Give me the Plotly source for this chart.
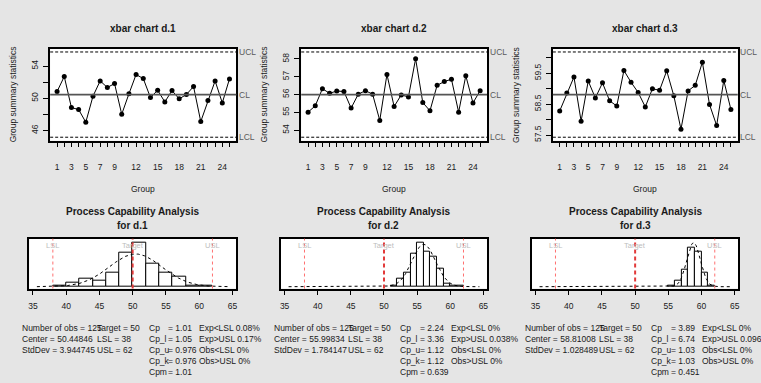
import numpy as np
import plotly.graph_objects as go

# ---------------- data ----------------
names = ["d.1", "d.2", "d.3"]
groups = list(range(1, 26))
xbar_d1 = [50.83, 52.69, 48.84, 48.59, 47.02, 50.25, 52.15, 51.33, 51.82, 48.01,
           50.54, 52.94, 52.44, 50.08, 50.99, 49.54, 50.95, 49.92, 50.46, 51.45,
           47.10, 49.71, 52.15, 49.42, 52.40]
xbar_d2 = [55.01, 55.37, 56.33, 56.07, 56.20, 56.17, 55.24, 56.02, 56.22, 56.02,
           54.55, 57.13, 55.33, 55.98, 55.87, 58.01, 55.55, 55.09, 56.52, 56.73,
           56.86, 55.01, 57.06, 55.53, 56.22]
xbar_d3 = [58.28, 58.86, 59.38, 57.95, 59.25, 58.70, 59.19, 58.61, 58.44, 59.59,
           59.21, 58.88, 58.41, 59.00, 58.95, 59.58, 58.77, 57.69, 58.93, 59.11,
           59.86, 58.49, 57.81, 59.27, 58.33]
xbars = [xbar_d1, xbar_d2, xbar_d3]

centers = [50.44846, 55.99834, 58.81008]
stddevs = [3.944745, 1.784147, 1.028489]
group_size = 5
n_obs = 125
target = 50
lsl = 38
usl = 62

xtick_vals = list(range(1, 26))
xtick_text = ["1", "", "3", "", "5", "", "7", "", "9", "", "", "12", "", "", "15",
              "", "", "18", "", "", "21", "", "", "24", ""]
ytick_vals = [[46, 48, 50, 52, 54], [54, 55, 56, 57, 58], [57.5, 58, 58.5, 59, 59.5, 60]]
ytick_text = [["46", "", "50", "", "54"], ["54", "55", "56", "57", "58"],
              ["57.5", "", "58.5", "", "59.5", ""]]

hist_breaks_d1 = [38, 40, 42, 44, 46, 48, 50, 52, 54, 56, 58, 60, 62]
hist_counts_d1 = [1, 3, 6, 5, 11, 26, 34, 18, 11, 8, 1, 1]
hist_breaks_d2 = [51, 52, 53, 54, 55, 56, 57, 58, 59, 60, 61, 62]
hist_counts_d2 = [1, 5, 9, 22, 29, 23, 20, 12, 2, 1, 1]
hist_breaks_d3 = [55, 56, 57, 58, 59, 60, 61, 62]
hist_counts_d3 = [1, 7, 19, 43, 39, 15, 1]
hist_breaks = [hist_breaks_d1, hist_breaks_d2, hist_breaks_d3]
hist_counts = [hist_counts_d1, hist_counts_d2, hist_counts_d3]
hist_ticks = [35, 40, 45, 50, 55, 60, 65]

cp_names = ["Cp", "Cp_l", "Cp_u", "Cp_k", "Cpm"]
cp_vals = [["1.01", "1.05", "0.976", "0.976", "1.01"],
           ["2.24", "3.36", "1.12", "1.12", "0.639"],
           ["3.89", "6.74", "1.03", "1.03", "0.451"]]
eo_names = ["Exp<LSL", "Exp>USL", "Obs<LSL", "Obs>USL"]
eo_vals = [["0.08%", "0.17%", "0%", "0%"],
           ["0%", "0.038%", "0%", "0%"],
           ["0%", "0.096%", "0%", "0%"]]
center_txt = ["50.44846", "55.99834", "58.81008"]
sd_txt = ["3.944745", "1.784147", "1.028489"]

# ---------------- layout helpers ----------------
W, H = 761, 383
FONT = "Liberation Sans, Arial, Helvetica, sans-serif"
BG = "#E5E5E5"
TXT = "#1a1a1a"


def px(x):
    return x / W


def py(y):
    return 1 - y / H


top_box_x = [(49.3, 236.0), (301.0, 487.3), (553.3, 738.7)]
top_box_y = (48.7, 141.0)
bot_box_x = [(28.3, 235.7), (280.7, 487.3), (532.3, 739.3)]
bot_box_y = (239.3, 289.3)

fig = go.Figure()
annotations = []
shapes = []
layout = dict(width=W, height=H, autosize=False, margin=dict(l=0, r=0, t=0, b=0),
              paper_bgcolor=BG, plot_bgcolor="white", showlegend=False,
              font=dict(family=FONT, size=8.5, color=TXT), bargap=0)

xr_top = [1 - 0.04 * 24, 25 + 0.04 * 24]

for i in range(3):
    k = i + 1
    xa = "x" if k == 1 else f"x{k}"
    ya = "y" if k == 1 else f"y{k}"
    c, s = centers[i], stddevs[i]
    half = 3 * s / np.sqrt(group_size)
    ucl, lcl = c + half, c - half
    lo = min(lcl, min(xbars[i]))
    hi = max(ucl, max(xbars[i]))
    d = hi - lo
    yr = [lo - 0.04 * d, hi + 0.04 * d]

    fig.add_trace(go.Scatter(x=groups, y=xbars[i], mode="lines+markers",
                             line=dict(color="black", width=1),
                             marker=dict(color="black", size=5),
                             xaxis=xa, yaxis=ya, hoverinfo="skip"))
    x0, x1 = top_box_x[i]
    layout[f"xaxis{k}" if k > 1 else "xaxis"] = dict(
        domain=[px(x0), px(x1)], range=xr_top, anchor=ya,
        tickvals=xtick_vals, ticktext=xtick_text, ticks="outside", ticklen=5,
        tickcolor="black", showgrid=False, zeroline=False, showline=True,
        mirror=True, linecolor="black", linewidth=1.5, ticklabelstandoff=12,
        tickfont=dict(size=8.5, color=TXT, family=FONT))
    layout[f"yaxis{k}" if k > 1 else "yaxis"] = dict(
        domain=[py(top_box_y[1]), py(top_box_y[0])], range=yr, anchor=xa,
        tickvals=ytick_vals[i], ticktext=ytick_text[i], ticks="outside", ticklen=5,
        tickcolor="black", tickangle=-90, showgrid=False, zeroline=False,
        showline=True, mirror=True, linecolor="black", linewidth=1.5,
        ticklabelstandoff=2, tickfont=dict(size=8.5, color=TXT, family=FONT))

    # control lines
    for val, dash, col, wd in [(ucl, "3px,2px", "black", 1), (lcl, "3px,2px", "black", 1),
                               (c, "solid", "#555555", 1.6)]:
        shapes.append(dict(type="line", xref=f"{xa} domain", yref=ya, x0=0, x1=1,
                           y0=val, y1=val, line=dict(color=col, width=wd, dash=dash),
                           layer="above"))
    for val, lab in [(ucl, "UCL"), (c, "CL"), (lcl, "LCL")]:
        annotations.append(dict(xref="paper", yref=ya, x=px(x1 + 0.5), y=val, text=lab,
                                showarrow=False, xanchor="left", yanchor="middle",
                                font=dict(size=8.5, color="#5a5a5a", family=FONT)))
    cx = (x0 + x1) / 2
    annotations.append(dict(xref="paper", yref="paper", x=px(cx), y=py(28.3),
                            text=f"<b>xbar chart {names[i]}</b>", showarrow=False,
                            xanchor="center", yanchor="middle",
                            font=dict(size=10, color=TXT, family=FONT)))
    annotations.append(dict(xref="paper", yref="paper", x=px(cx), y=py(189),
                            text="Group", showarrow=False, xanchor="center",
                            yanchor="middle", font=dict(size=8.5, color=TXT, family=FONT)))
    annotations.append(dict(xref="paper", yref="paper", x=px(x0 - 37.5),
                            y=py((top_box_y[0] + top_box_y[1]) / 2),
                            text="Group summary statistics", showarrow=False,
                            textangle=-90, xanchor="center", yanchor="middle",
                            font=dict(size=8.5, color=TXT, family=FONT)))

# ---------------- capability histograms ----------------
for i in range(3):
    k = i + 4
    xa, ya = f"x{k}", f"y{k}"
    br = np.array(hist_breaks[i], dtype=float)
    cnt = np.array(hist_counts[i], dtype=float)
    bw = br[1] - br[0]
    dens = cnt / (n_obs * bw)
    mids = (br[:-1] + br[1:]) / 2
    c, s = centers[i], stddevs[i]
    lims = [br.min(), br.max(), lsl, usl, target]
    xl = [min(lims), max(lims)]
    dx = xl[1] - xl[0]
    xlim = [xl[0] - 0.1 * dx, xl[1] + 0.1 * dx]
    xx = np.linspace(xlim[0], xlim[1], 250)
    yy = np.exp(-0.5 * ((xx - c) / s) ** 2) / (s * np.sqrt(2 * np.pi))
    M = max(dens.max(), yy.max())
    yr = [-0.042 * M, 1.092 * M]
    xd = xlim[1] - xlim[0]
    xr = [xlim[0] - 0.04 * xd, xlim[1] + 0.04 * xd]

    fig.add_trace(go.Bar(x=mids, y=dens, width=bw,
                         marker=dict(color="white", line=dict(color="black", width=1)),
                         xaxis=xa, yaxis=ya, hoverinfo="skip"))
    fig.add_trace(go.Scatter(x=xx, y=yy, mode="lines",
                             line=dict(color="black", width=1, dash="3px,3px"),
                             xaxis=xa, yaxis=ya, hoverinfo="skip"))
    x0, x1 = bot_box_x[i]
    layout[f"xaxis{k}"] = dict(domain=[px(x0), px(x1)], range=xr, anchor=ya,
                               tickvals=hist_ticks, ticks="outside", ticklen=5,
                               tickcolor="black", showgrid=False, zeroline=False,
                               showline=True, mirror=True, linecolor="black",
                               linewidth=1.5, ticklabelstandoff=4,
                               tickfont=dict(size=8.5, color=TXT, family=FONT))
    layout[f"yaxis{k}"] = dict(domain=[py(bot_box_y[1]), py(bot_box_y[0])], range=yr,
                               anchor=xa, showticklabels=False, ticks="",
                               showgrid=False, zeroline=False, showline=True,
                               mirror=True, linecolor="black", linewidth=1.5)
    for val, dash, col, wd in [(lsl, "dot", "#FF7070", 1), (usl, "dot", "#FF7070", 1),
                               (target, "4px,3px", "#E23A3A", 2)]:
        shapes.append(dict(type="line", xref=xa, yref=f"{ya} domain", x0=val, x1=val,
                           y0=0, y1=1, line=dict(color=col, width=wd, dash=dash),
                           layer="above"))
    for val, lab in [(lsl, "LSL"), (target, "Target"), (usl, "USL")]:
        annotations.append(dict(xref=xa, yref=f"{ya} domain", x=val, y=0.866, text=lab,
                                showarrow=False, xanchor="center", yanchor="middle",
                                font=dict(size=7.5, color="#BDBDBD", family=FONT)))
    cx = (x0 + x1) / 2
    annotations.append(dict(xref="paper", yref="paper", x=px(cx), y=py(211.7),
                            text="<b>Process Capability Analysis</b>", showarrow=False,
                            xanchor="center", yanchor="middle",
                            font=dict(size=10, color=TXT, family=FONT)))
    annotations.append(dict(xref="paper", yref="paper", x=px(cx), y=py(225.7),
                            text=f"<b>for {names[i]}</b>", showarrow=False,
                            xanchor="center", yanchor="middle",
                            font=dict(size=10, color=TXT, family=FONT)))

    # stats text
    rows_y = [329, 340, 351, 362, 373]
    colA = [f"Number of obs = {n_obs}", f"Center = {center_txt[i]}", f"StdDev = {sd_txt[i]}"]
    colB = [f"Target = {target}", f"LSL = {lsl}", f"USL = {usl}"]
    colC = cp_names
    colD = [f"= {v}" for v in cp_vals[i]]
    colE = [f"{nm} {v}" for nm, v in zip(eo_names, eo_vals[i])]
    for off, col in [(-9.3, colA), (65.5, colB), (117.7, colC), (137.0, colD), (168.4, colE)]:
        for r, t in enumerate(col):
            annotations.append(dict(xref="paper", yref="paper", x=px(x0 + off),
                                    y=py(rows_y[r]), text=t, showarrow=False,
                                    xanchor="left", yanchor="middle",
                                    font=dict(size=8.5, color=TXT, family=FONT)))

layout["annotations"] = annotations
layout["shapes"] = shapes
fig.update_layout(**layout)
fig.write_html("out.html")
